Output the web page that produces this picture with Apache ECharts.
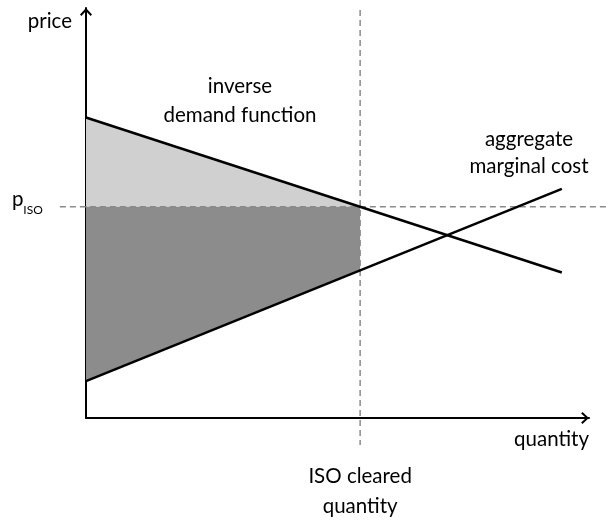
<!DOCTYPE html>
<html>
<head>
<meta charset="utf-8">
<script src="https://cdn.jsdelivr.net/npm/echarts@6/dist/echarts.min.js"></script>
<style>
  html, body { margin: 0; padding: 0; background: #ffffff; }
  #chart { width: 606px; height: 521px; }
</style>
</head>
<body>
<div id="chart"></div>
<script>
  // values (axis units 0..100)
  const quantityEnds = [0, 94.6]
  const demandPrice = [73.3, 35.5]
  const supplyPrice = [9.0, 55.9]
  const pIso = 51.5
  const qIso = 54.5
  const supplyAtCleared = 36.0
  const hLineX = [-5.2, 104]
  const vLineY = [99.5, -6.6]

  const font = 'Lato, "Open Sans", sans-serif'
  const fs = 20.5
  const arrow = 'path://M6 0 L12 6.4 L10.6 7.8 L6 2.8 L1.4 7.8 L0 6.4 Z'

  function polygon (points, color) {
    return {
      type: 'custom',
      silent: true,
      z: 1,
      data: points,
      renderItem: function (params, api) {
        if (params.dataIndex !== 0) return null
        return {
          type: 'polygon',
          shape: { points: points.map(p => api.coord(p)) },
          style: { fill: color }
        }
      }
    }
  }

  // dashed guide line between two data points, with a text at one end
  function guide (points, text) {
    return {
      type: 'custom',
      silent: true,
      clip: false,
      z: 3,
      data: points,
      renderItem: function (params, api) {
        if (params.dataIndex !== 0) return null
        const a = api.coord(points[0])
        const b = api.coord(points[1])
        return {
          type: 'group',
          children: [
            {
              type: 'line',
              shape: { x1: a[0], y1: a[1], x2: b[0], y2: b[1] },
              style: { stroke: '#8a8a8a', lineWidth: 1.5, lineDash: [6, 4] }
            },
            Object.assign({ type: 'text' }, text(a, b))
          ]
        }
      }
    }
  }

  const lightArea = [[0, demandPrice[0]], [qIso, pIso], [0, pIso]]
  const darkArea = [[0, pIso], [qIso, pIso], [qIso, supplyAtCleared], [0, supplyPrice[0]]]

  const chart = echarts.init(document.getElementById('chart'))
  chart.setOption({
    animation: false,
    grid: { left: 86, right: 17, top: 8, bottom: 103 },
    xAxis: {
      type: 'value', min: 0, max: 100,
      name: 'quantity', nameLocation: 'end', nameGap: 0,
      nameTextStyle: { fontFamily: font, fontSize: fs, color: '#000', align: 'right', verticalAlign: 'top', padding: [11, 0, 0, 0] },
      axisLine: { lineStyle: { color: '#000', width: 2 }, symbol: ['none', arrow], symbolSize: [12, 8], symbolOffset: [0, -4] },
      axisTick: { show: false }, axisLabel: { show: false }, splitLine: { show: false }
    },
    yAxis: {
      type: 'value', min: 0, max: 100,
      name: 'price', nameLocation: 'end', nameGap: -13,
      nameTextStyle: { fontFamily: font, fontSize: fs, color: '#000', align: 'right', verticalAlign: 'middle', padding: [0, 14, 0, 0] },
      axisLine: { lineStyle: { color: '#000', width: 2 }, symbol: ['none', arrow], symbolSize: [12, 8], symbolOffset: [0, -4] },
      axisTick: { show: false }, axisLabel: { show: false }, splitLine: { show: false }
    },
    graphic: [
      { type: 'text', style: { text: 'inverse\ndemand function', x: 240, y: 72, align: 'center', fontFamily: font, fontSize: fs, lineHeight: 29, fill: '#000' } },
      { type: 'text', style: { text: 'aggregate\nmarginal cost', x: 529, y: 126, align: 'center', fontFamily: font, fontSize: fs, lineHeight: 27, fill: '#000' } }
    ],
    series: [
      polygon(lightArea, '#d0d0d0'),
      polygon(darkArea, '#8c8c8c'),
      guide([[hLineX[0], pIso], [hLineX[1], pIso]], (a) => ({
        style: {
          x: a[0] - 17, y: a[1] - 4, align: 'right', verticalAlign: 'middle',
          text: '{p|p}{s|ISO}',
          rich: {
            p: { fontFamily: font, fontSize: fs, fill: '#000', verticalAlign: 'bottom', padding: [0, 0, 6, 0] },
            s: { fontFamily: font, fontSize: 12, fill: '#000', verticalAlign: 'bottom' }
          }
        }
      })),
      guide([[qIso, vLineY[0]], [qIso, vLineY[1]]], (a, b) => ({
        style: {
          x: b[0], y: b[1] + 16, align: 'center', verticalAlign: 'top',
          text: 'ISO cleared\nquantity', fontFamily: font, fontSize: fs, lineHeight: 30, fill: '#000'
        }
      })),
      {
        name: 'demand', type: 'line', z: 4, symbol: 'none', silent: true,
        lineStyle: { color: '#000', width: 2.5 },
        data: quantityEnds.map((q, i) => [q, demandPrice[i]])
      },
      {
        name: 'supply', type: 'line', z: 4, symbol: 'none', silent: true,
        lineStyle: { color: '#000', width: 2.5 },
        data: quantityEnds.map((q, i) => [q, supplyPrice[i]])
      }
    ]
  })
</script>
</body>
</html>
